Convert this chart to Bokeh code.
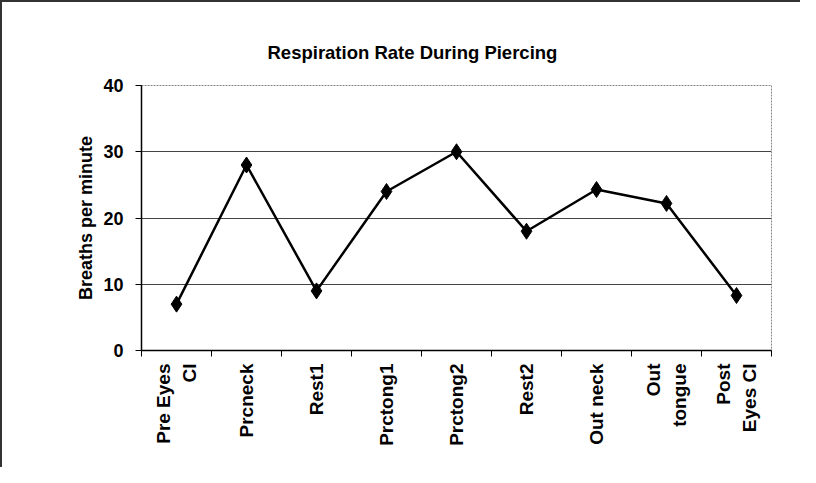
import math
from bokeh.plotting import figure
from bokeh.models import FixedTicker, Title
from bokeh.embed import file_html
from bokeh.resources import INLINE

categories = ["Pre Eyes\nCl", "Prcneck", "Rest1", "Prctong1", "Prctong2",
              "Rest2", "Out neck", "Out\ntongue", "Post\nEyes Cl"]
breaths = [7, 28, 9, 24, 30, 18, 24.3, 22.2, 8.3]
y_ticks = [0, 10, 20, 30, 40]

FONT = "Liberation Sans"

xs = [i + 0.5 for i in range(len(categories))]

p = figure(width=800, height=467, output_backend="svg", toolbar_location=None,
           x_range=(0, len(categories)), y_range=(0, 40),
           min_border_left=139, min_border_right=31, min_border_top=83,
           min_border_bottom=119)
p.title = None
p.add_layout(Title(text="Respiration Rate During Piercing", align="left", offset=126,
                   text_font=FONT, text_font_size="18.5px", text_font_style="bold",
                   text_color="#000000", standoff=46), "above")

p.line(xs, breaths, line_color="#000000", line_width=2.5)
p.scatter(xs, breaths, marker="diamond", size=16, fill_color="#000000", line_color="#000000")

# X axis
p.xaxis.ticker = FixedTicker(ticks=xs, minor_ticks=list(range(len(categories) + 1)))
p.xaxis.major_label_overrides = {x: c for x, c in zip(xs, categories)}
p.xaxis.major_label_orientation = math.pi / 2
p.xaxis.major_tick_out = 0
p.xaxis.major_tick_in = 0
p.xaxis.minor_tick_out = 6
p.xaxis.minor_tick_in = 0
p.xaxis.minor_tick_line_color = "#000000"
p.xaxis.axis_line_color = "#000000"
p.xaxis.axis_line_width = 1.5
p.xaxis.major_label_text_font = FONT
p.xaxis.major_label_text_font_size = "19px"
p.xaxis.major_label_text_font_style = "bold"
p.xaxis.major_label_text_color = "#000000"
p.xaxis.major_label_standoff = 7

# Y axis
p.yaxis.ticker = FixedTicker(ticks=y_ticks)
p.yaxis.minor_tick_line_color = None
p.yaxis.major_tick_out = 6
p.yaxis.major_tick_in = 0
p.yaxis.major_tick_line_color = "#000000"
p.yaxis.axis_line_color = "#000000"
p.yaxis.axis_line_width = 1.5
p.yaxis.major_label_text_font = FONT
p.yaxis.major_label_text_font_size = "18px"
p.yaxis.major_label_text_font_style = "bold"
p.yaxis.major_label_text_color = "#000000"
p.yaxis.major_label_standoff = 12
p.yaxis.axis_label = "Breaths per minute"
p.yaxis.axis_label_text_font = FONT
p.yaxis.axis_label_text_font_size = "18px"
p.yaxis.axis_label_text_font_style = "bold"
p.yaxis.axis_label_text_color = "#000000"
p.yaxis.axis_label_standoff = 4

p.xgrid.grid_line_color = None
p.ygrid.grid_line_color = "#444444"
p.ygrid.grid_line_width = 1

p.outline_line_color = "#888888"
p.outline_line_dash = "2 1"
p.outline_line_width = 1

p.styles = {"border-left": "2px solid #333333", "border-top": "2px solid #333333"}

open("out.html", "w").write(file_html(p, INLINE))
